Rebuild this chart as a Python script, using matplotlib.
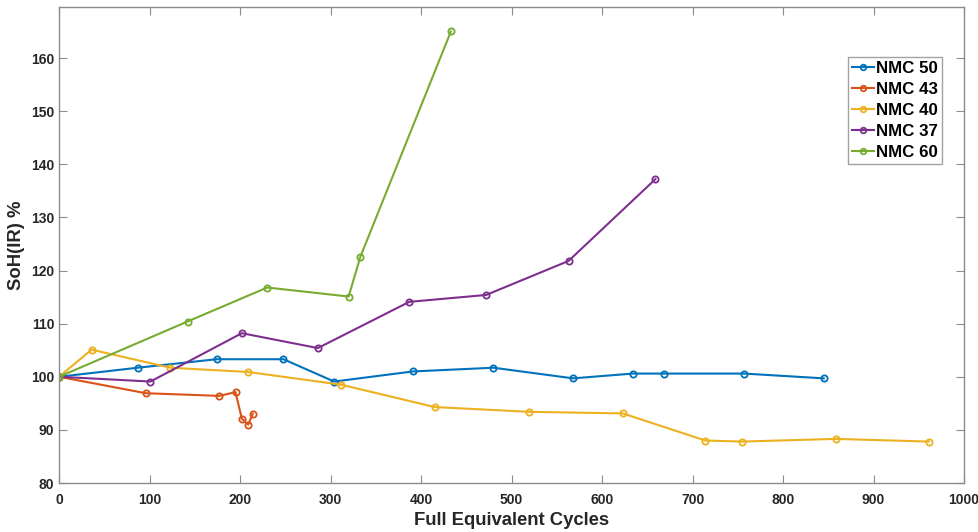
import numpy as np
import matplotlib
matplotlib.use("Agg")
import matplotlib.pyplot as plt

plt.rcParams['font.family'] = ['Liberation Sans', 'DejaVu Sans']
plt.rcParams['font.weight'] = 'bold'

# cicli equivalenti e SoH(IR) per ogni cella
fec_50 = [0, 87, 174, 248, 304, 391, 480, 568, 634, 669, 757, 845]
soh_50 = [100, 101.7, 103.3, 103.3, 99.1, 101.0, 101.7, 99.7, 100.6, 100.6, 100.6, 99.7]

fec_43 = [0, 96, 177, 195, 202, 209, 214]
soh_43 = [100, 96.9, 96.4, 97.1, 92.1, 91.0, 93.0]

fec_40 = [0, 36, 123, 209, 312, 415, 519, 623, 714, 755, 858, 961]
soh_40 = [100, 105.1, 101.7, 100.9, 98.5, 94.3, 93.4, 93.1, 88.0, 87.8, 88.3, 87.8]

fec_37 = [0, 101, 202, 286, 387, 472, 563, 659]
soh_37 = [100, 99.1, 108.2, 105.4, 114.1, 115.4, 121.8, 137.2]

fec_60 = [0, 142, 230, 320, 333, 433]
soh_60 = [100, 110.4, 116.8, 115.1, 122.6, 165.0]

labels = ["NMC 50", "NMC 43", "NMC 40", "NMC 37", "NMC 60"]
colori = ["#0072BD", "#D95319", "#EDB120", "#7E2F8E", "#77AC30"]

fig = plt.figure(figsize=(9.79, 5.32), dpi=100)
ax = fig.add_axes([0.0603, 0.0921, 0.9244, 0.8947])

serie = [(fec_50, soh_50), (fec_43, soh_43), (fec_40, soh_40), (fec_37, soh_37), (fec_60, soh_60)]
for (x, y), lab, c in zip(serie, labels, colori):
    ax.plot(x, y, '-o', color=c, lw=1.5, ms=4.5, mfc='none', mew=1.3, label=lab)

ax.set_xlim(0, 1000)
ax.set_ylim(80, 169.6)
ax.set_xticks(np.arange(0, 1001, 100))
ax.set_yticks(np.arange(80, 161, 10))

# stile assi tipo MATLAB
grigio = "#8c8c8c"
for s in ax.spines.values():
    s.set_color(grigio)
    s.set_linewidth(1.0)
ax.tick_params(direction='in', top=True, right=True, length=6, width=0.8,
               color=grigio, labelsize=10, labelcolor='#262626')
ax.tick_params(axis='x', pad=7)
ax.tick_params(axis='y', pad=3.5)
for t in ax.get_xticklabels() + ax.get_yticklabels():
    t.set_fontweight('bold')

ax.set_xlabel("Full Equivalent Cycles", fontsize=13.3, fontweight='bold', color='#262626', labelpad=4)
ax.set_ylabel("SoH(IR) %", fontsize=13.3, fontweight='bold', color='#262626', labelpad=4)

leg = ax.legend(loc='upper right', bbox_to_anchor=(0.9757, 0.895),
                prop={'weight': 'bold', 'size': 12.2}, frameon=True, fancybox=False,
                handlelength=1.35, handletextpad=0.12, borderpad=0.22, labelspacing=0.36,
                borderaxespad=0)
leg.get_frame().set_edgecolor(grigio)
leg.get_frame().set_linewidth(1.0)
for h in leg.get_lines():
    h.set_markersize(4)

fig.savefig("out.png", dpi=100)
